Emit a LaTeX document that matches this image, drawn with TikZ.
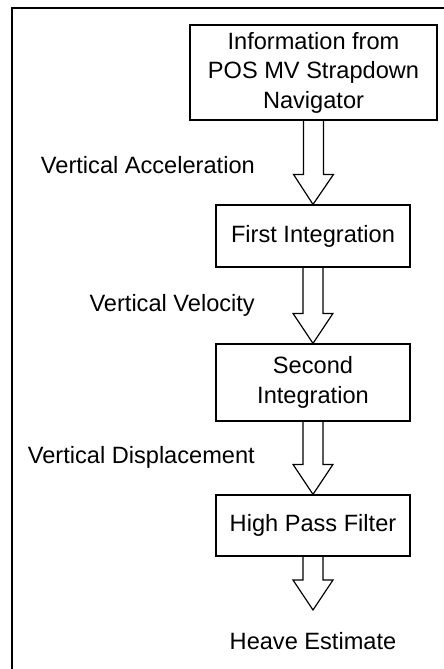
\documentclass[tikz,border=0pt]{standalone}
\usepackage{fontspec}
\setmainfont{Liberation Sans}
\usetikzlibrary{calc}
\begin{document}
\begin{tikzpicture}[x=1pt,y=-1pt,
  font=\fontsize{23.6pt}{29.5pt}\selectfont,
  box/.style={draw, line width=1.2pt, inner sep=0pt, align=center},
  lbl/.style={anchor=east, inner sep=0pt},
  blockarrow/.style={draw, line width=1.2pt, line join=miter,
    to path={let \p1=(\tikztostart), \p2=(\tikztotarget) in
      (\x1-10pt,\y1) -- (\x1-10pt,\y2+30pt) -- (\x1-20pt,\y2+30pt) -- (\x2,\y2)
      -- (\x1+20pt,\y2+30pt) -- (\x1+10pt,\y2+30pt) -- (\x1+10pt,\y1)}}]
\useasboundingbox (0,0) rectangle (444,669);
\draw[line width=2pt] (12,675) -- (12,7.7) -- (450,7.7);

\node[box, minimum width=247pt, minimum height=95pt] (info) at (313.5,72.5)
  {Information from\\POS MV Strapdown\\Navigator};
\node[box, minimum width=194pt, minimum height=62pt] (first) at (313,236) {First Integration};
\node[box, minimum width=194pt, minimum height=77pt] (second) at (313,382.5) {Second\\Integration};
\node[box, minimum width=194pt, minimum height=61pt] (hpf) at (313,525.5) {High Pass Filter};
\coordinate (end) at (313,610);
\node[inner sep=0pt] (heave) at (313,641) {Heave Estimate};

\node[lbl] (acc) at (255,165) {Vertical Acceleration};
\node[lbl] (vel) at (255,305) {Vertical Velocity};
\node[lbl] (disp) at (255,457) {Vertical Displacement};

\draw[blockarrow] (info.south) to (first.north);
\draw[blockarrow] (first.south) to (second.north);
\draw[blockarrow] (second.south) to (hpf.north);
\draw[blockarrow] (hpf.south) to (end);
\end{tikzpicture}
\end{document}
